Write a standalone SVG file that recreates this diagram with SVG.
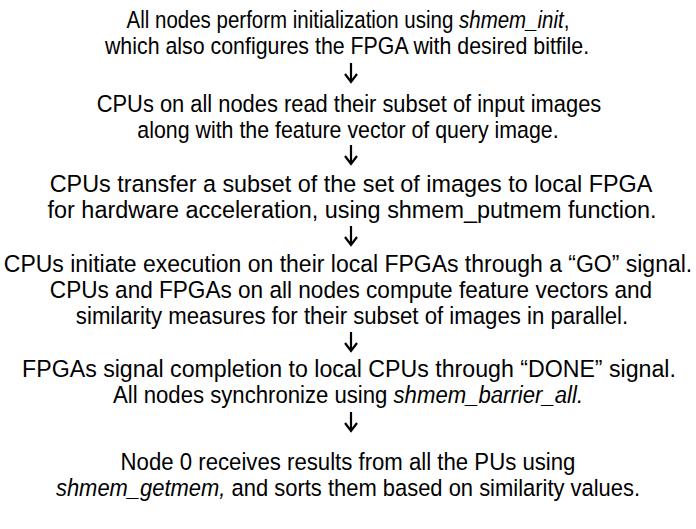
<svg xmlns="http://www.w3.org/2000/svg" width="696" height="529" viewBox="0 0 696 529">
<style>
text{font-family:"Liberation Sans",Arial,sans-serif;font-size:24.5px;fill:#000;text-anchor:middle}
.it{font-style:italic}
.arr{stroke:#000;stroke-width:2.2;fill:none}
</style>
<rect width="696" height="529" fill="#fff"/>
<g id="n1">
<text transform="translate(348 28) scale(0.836 1)">All nodes perform initialization using <tspan class="it">shmem_init</tspan>,</text>
<text transform="translate(347 54) scale(0.872 1)">which also configures the FPGA with desired bitfile.</text>
</g>
<g id="n2">
<text transform="translate(349 112) scale(0.893 1)">CPUs on all nodes read their subset of input images</text>
<text transform="translate(348 138) scale(0.872 1)">along with the feature vector of query image.</text>
</g>
<g id="n3">
<text transform="translate(351 192) scale(0.954 1)">CPUs transfer a subset of the set of images to local FPGA</text>
<text transform="translate(352 218) scale(0.956 1)">for hardware acceleration, using shmem_putmem function.</text>
</g>
<g id="n4">
<text transform="translate(348 272) scale(0.938 1)">CPUs initiate execution on their local FPGAs through a “GO” signal.</text>
<text transform="translate(351 298) scale(0.922 1)">CPUs and FPGAs on all nodes compute feature vectors and</text>
<text transform="translate(352 324) scale(0.906 1)">similarity measures for their subset of images in parallel.</text>
</g>
<g id="n5">
<text transform="translate(349 377) scale(0.946 1)">FPGAs signal completion to local CPUs through “DONE” signal.</text>
<text transform="translate(348 403) scale(0.904 1)">All nodes synchronize using <tspan class="it">shmem_barrier_all.</tspan></text>
</g>
<g id="n6">
<text transform="translate(348 470) scale(0.906 1)">Node 0 receives results from all the PUs using</text>
<text transform="translate(348 496) scale(0.896 1)"><tspan class="it">shmem_getmem,</tspan> and sorts them based on similarity values.</text>
</g>
<g id="connectors">
<path class="arr" d="M351 63V82M345 74L351 82L357 74"/>
<path class="arr" d="M351 145V164M345 156L351 164L357 156"/>
<path class="arr" d="M351 226V245M345 237L351 245L357 237"/>
<path class="arr" d="M351 332V351M345 343L351 351L357 343"/>
<path class="arr" d="M351 412V431M345 423L351 431L357 423"/>
</g>
</svg>
